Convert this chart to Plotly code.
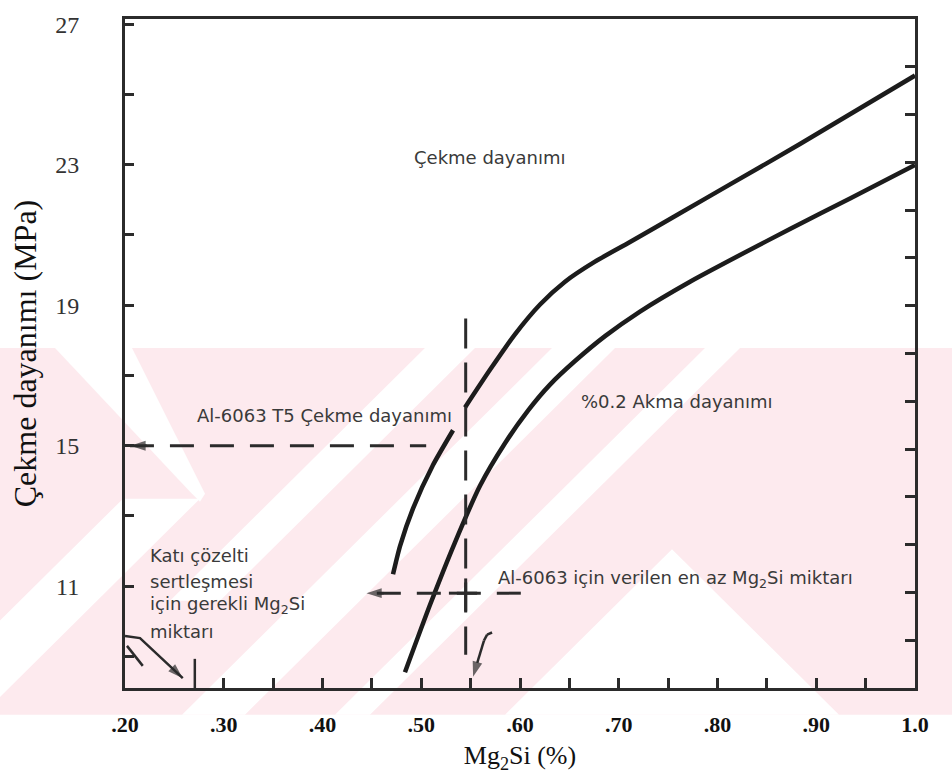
import plotly.graph_objects as go

# ---------------- data ----------------
# Çekme dayanımı curve (drawn in two pieces, broken by the label)
tensile_low_x = [0.4714, 0.4785, 0.4916, 0.5119, 0.5322]
tensile_low_y = [11.34, 12.14, 13.21, 14.45, 15.44]
tensile_high_x = [0.5443, 0.5696, 0.5949, 0.6203, 0.6456, 0.6759, 0.7114, 0.7620, 0.8127, 0.8835, 1.0]
tensile_high_y = [16.09, 17.16, 18.17, 19.02, 19.67, 20.24, 20.80, 21.62, 22.44, 23.59, 25.54]
# %0.2 Akma dayanımı curve
yield_x = [0.4835, 0.5089, 0.5342, 0.5595, 0.5848, 0.6081, 0.6304, 0.6557, 0.6861, 0.7215,
           0.7722, 0.8228, 0.8734, 0.9342, 1.0]
yield_y = [8.55, 10.47, 12.25, 13.86, 15.07, 16.00, 16.74, 17.41, 18.12, 18.82,
           19.67, 20.43, 21.17, 22.04, 22.99]

# reference (dashed) guide values
t5_strength = 15.0            # Al-6063 T5 çekme dayanımı
t5_guide_x = [0.205, 0.505]
min_mg2si = 0.545             # Al-6063 için en az Mg2Si
min_guide_y = [18.62, 9.05]
min_level = 10.8
min_level_x = [0.455, 0.606]
solid_sol_mg2si = 0.2707      # katı çözelti için gerekli Mg2Si

# axis ticks
x_tickvals = [0.2, 0.3, 0.4, 0.5, 0.6, 0.7, 0.8, 0.9, 1.0]
x_ticktext = [".20", ".30", ".40", ".50", ".60", ".70", ".80", ".90", "1.0"]
x_minor_vals = [0.35, 0.45, 0.55, 0.65, 0.75, 0.85, 0.95]
y_tickvals = [11, 15, 19, 23, 27]
y_minor_vals = [9, 13, 17, 21, 25]

INK = "#2b2b2b"
TXT = "#3a3a3a"
PINK = "#fdeaee"
fig = go.Figure()

# ---------------- background watermark (decoration, in page pixels) ----------------
L, R, T, B = 125, 915, 13, 688


def pp(px, py):
    return f"{(px - L) / (R - L):.4f},{(B - py) / (B - T):.4f}"


def poly(pts, color):
    d = "M " + " L ".join(pp(a, b) for a, b in pts) + " Z"
    fig.add_shape(type="path", path=d, xref="paper", yref="paper", layer="below",
                  fillcolor=color, line=dict(width=0))


def slash(s0, s1, ya, yb):
    # white "/" gap between the lines x+y=s0 and x+y=s1, from y=ya down to y=yb
    poly([(s0 - ya, ya), (s1 - ya, ya), (s1 - yb, yb), (s0 - yb, yb)], "white")


WT, WB = 345, 715
poly([(0, WT), (952, WT), (952, WB), (0, WB)], PINK)
# left ">" chevron
poly([(WT - 290, WT), (WT - 213, WT), (205, 492), (200, 500), (190, 490)], "white")
slash(620, 697, 497, WB)
# "/" gaps
slash(770, 820, WT, 600)
slash(897, 960, WT, WB)
slash(1050, 1085, WT, WB)
# right wedge
poly([(672, 548), (1220 - WB, WB), (124 + WB, WB)], "white")

# ---------------- chart ----------------
curve = dict(color="#1c1c1c", width=4.5, shape="spline", smoothing=0.6)
fig.add_trace(go.Scatter(x=tensile_low_x, y=tensile_low_y, mode="lines", line=curve))
fig.add_trace(go.Scatter(x=tensile_high_x, y=tensile_high_y, mode="lines", line=curve))
fig.add_trace(go.Scatter(x=yield_x, y=yield_y, mode="lines", line=curve))

dash = dict(color=INK, width=3, dash="24px,16px")
fig.add_trace(go.Scatter(x=t5_guide_x, y=[t5_strength, t5_strength], mode="lines", line=dash))
fig.add_trace(go.Scatter(x=[min_mg2si, min_mg2si], y=min_guide_y, mode="lines",
                         line=dict(color=INK, width=3, dash="30px,14px")))
fig.add_trace(go.Scatter(x=min_level_x, y=[min_level, min_level], mode="lines", line=dash))
# cross mark where guides meet
fig.add_trace(go.Scatter(x=[min_mg2si, min_mg2si, None, 0.528, 0.5566],
                         y=[11.22, 10.28, None, min_level, min_level], mode="lines",
                         line=dict(color=INK, width=3)))
# short mark under the bent arrow and the solid-solution tick
fig.add_trace(go.Scatter(x=[0.202, 0.218], y=[9.30, 8.73], mode="lines",
                         line=dict(color=INK, width=2.5)))
fig.add_trace(go.Scatter(x=[solid_sol_mg2si, solid_sol_mg2si], y=[8.1, 8.93], mode="lines",
                         line=dict(color=INK, width=2.5)))

# arrows: lines whose last point carries an arrow-head marker
arrow_paths = [
    ([0.222, 0.2055], [t5_strength, t5_strength]),
    ([0.462, 0.4445], [min_level, min_level]),
    ([0.5717, 0.5667, 0.5635, 0.5525], [9.68, 9.62, 9.45, 8.42]),
    ([0.2, 0.2152, 0.2585], [9.58, 9.52, 8.38]),
]
for px_, py_ in arrow_paths:
    n = len(px_)
    fig.add_trace(go.Scatter(
        x=px_, y=py_, mode="lines+markers",
        line=dict(color=INK, width=2.5),
        marker=dict(symbol="arrow", size=[0] * (n - 1) + [16], angleref="previous",
                    color=INK, line=dict(width=0)),
    ))

# empty trace to anchor the right-hand tick axis
fig.add_trace(go.Scatter(x=[], y=[], yaxis="y2"))

lab = dict(family="DejaVu Sans", size=18, color=TXT)
fig.add_annotation(x=0.5687, y=23.22, text="Çekme dayanımı", showarrow=False, font=lab)
fig.add_annotation(x=0.5333, y=15.85, text="Al-6063 T5 Çekme dayanımı", showarrow=False,
                   font=lab, xanchor="right")
fig.add_annotation(x=0.7586, y=16.27, text="%0.2 Akma dayanımı", showarrow=False, font=lab)
fig.add_annotation(x=0.5758, y=11.19, text="Al-6063 için verilen en az Mg<sub>2</sub>Si miktarı",
                   showarrow=False, font=lab, xanchor="left")
left_lines = ["Katı çözelti", "sertleşmesi", "için gerekli Mg<sub>2</sub>Si", "miktarı"]
left_ys = [11.87, 11.13, 10.46, 9.72]
for t, yy in zip(left_lines, left_ys):
    fig.add_annotation(x=0.2232, y=yy, text=t, showarrow=False, font=lab, xanchor="left")

fig.update_layout(
    width=952, height=779,
    margin=dict(l=125, r=37, t=13, b=91),
    paper_bgcolor="white", plot_bgcolor="rgba(0,0,0,0)",
    showlegend=False,
    xaxis=dict(
        range=[0.2, 1.0], showgrid=False, zeroline=False,
        showline=True, linewidth=3, linecolor=INK, mirror=True,
        tickmode="array", tickvals=x_tickvals, ticktext=x_ticktext,
        ticks="inside", ticklen=10, tickwidth=2.5, tickcolor=INK,
        minor=dict(tickmode="array", tickvals=x_minor_vals, ticks="inside",
                   ticklen=10, tickwidth=2.5, tickcolor=INK),
        tickfont=dict(family="Liberation Serif", size=22, color="#111", weight="bold"),
        ticklabelstandoff=15,
        title=dict(text="Mg<sub>2</sub>Si (%)", standoff=10,
                   font=dict(family="Liberation Serif", size=26, color="#111")),
    ),
    yaxis=dict(
        range=[8.1, 27.15], showgrid=False, zeroline=False,
        showline=True, linewidth=3, linecolor=INK,
        tickmode="array", tickvals=y_tickvals,
        ticks="inside", ticklen=9, tickwidth=2.5, tickcolor=INK,
        minor=dict(tickmode="array", tickvals=y_minor_vals, ticks="inside",
                   ticklen=9, tickwidth=2.5, tickcolor=INK),
        tickfont=dict(family="Liberation Serif", size=24, color="#333"),
        ticklabelstandoff=38,
        title=dict(text="Çekme dayanımı (MPa)", standoff=10,
                   font=dict(family="Liberation Serif", size=32, color="#111")),
    ),
    yaxis2=dict(
        overlaying="y", side="right", range=[0, 14], tickmode="linear", tick0=0, dtick=1,
        showgrid=False, zeroline=False, showline=True, linewidth=3, linecolor=INK,
        ticks="inside", ticklen=10, tickwidth=2.5, tickcolor=INK, showticklabels=False,
    ),
)

fig.write_html("out.html")
